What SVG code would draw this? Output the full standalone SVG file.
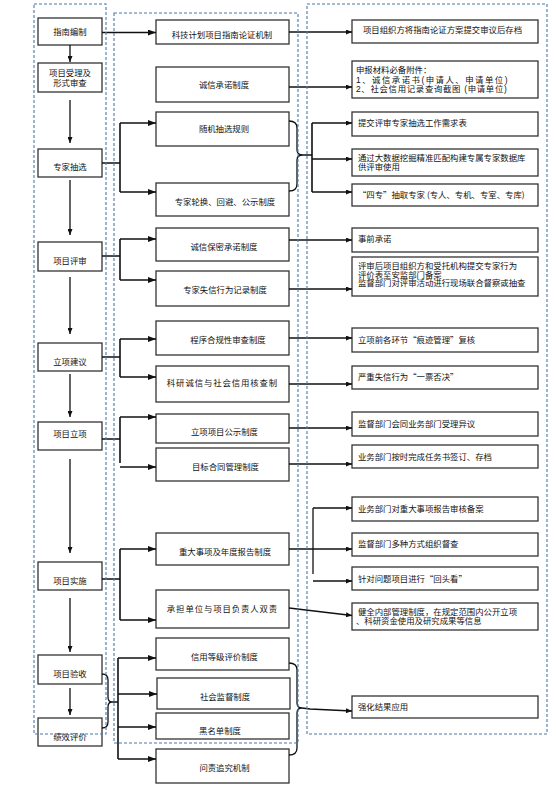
<svg xmlns="http://www.w3.org/2000/svg" width="556" height="786" viewBox="0 0 556 786">
<defs>
<style>
.box{fill:#fff;stroke:#333;stroke-width:1.3}
.t{font-family:"Liberation Sans","Noto Sans CJK SC",sans-serif;font-size:8.4px;fill:#111}
.q{font-family:"Noto Sans CJK SC",sans-serif}
.c{text-anchor:middle}
.ln{fill:none;stroke:#111;stroke-width:1.3}
.lk{fill:none;stroke:#111;stroke-width:1.6}
.dash{fill:none;stroke:#4a78ad;stroke-width:1.1;stroke-dasharray:3 2}
</style>
<marker id="ar" viewBox="0 0 8 6" refX="8" refY="3" markerWidth="8" markerHeight="6" orient="auto" markerUnits="userSpaceOnUse"><path d="M0,0 L8,3 L0,6 z" fill="#111"/></marker>
<marker id="as" viewBox="0 0 6 5" refX="6" refY="2.5" markerWidth="6" markerHeight="5" orient="auto" markerUnits="userSpaceOnUse"><path d="M0,0 L6,2.5 L0,5 z" fill="#111"/></marker>
</defs>
<rect width="556" height="786" fill="#fff"/>

<!-- left nodes -->
<g id="L1"><rect class="box" x="38" y="18" width="64" height="27"/><text class="t c" x="70" y="35">指南编制</text></g>
<g id="L2"><rect class="box" x="38" y="63" width="64" height="29"/><text class="t c" x="70" y="76">项目受理及</text><text class="t c" x="70" y="85.5">形式审查</text></g>
<g id="L3"><rect class="box" x="38" y="149" width="64" height="28"/><text class="t c" x="70" y="170">专家抽选</text></g>
<g id="L4"><rect class="box" x="38" y="242" width="64" height="29"/><text class="t c" x="70" y="264">项目评审</text></g>
<g id="L5"><rect class="box" x="38" y="343" width="64" height="28"/><text class="t c" x="70" y="365">立项建议</text></g>
<g id="L6"><rect class="box" x="38" y="422" width="64" height="28"/><text class="t c" x="70" y="437">项目立项</text></g>
<g id="L7"><rect class="box" x="38" y="562" width="64" height="28"/><text class="t c" x="70" y="584">项目实施</text></g>
<g id="L8"><rect class="box" x="38" y="655" width="64" height="29"/><text class="t c" x="70" y="677">项目验收</text></g>
<g id="L9"><rect class="box" x="38" y="718" width="64" height="28"/><text class="t c" x="70" y="740">绩效评价</text></g>

<!-- middle nodes -->
<g id="M1"><rect class="box" x="156" y="20" width="133" height="24"/><text class="t c" x="222" y="38">科技计划项目指南论证机制</text></g>
<g id="M2"><rect class="box" x="156" y="67" width="133" height="35"/><text class="t c" x="224" y="88">诚信承诺制度</text></g>
<g id="M3"><rect class="box" x="156" y="112" width="133" height="34"/><text class="t c" x="224" y="132">随机抽选规则</text></g>
<g id="M4"><rect class="box" x="156" y="183" width="133" height="33"/><text class="t c" x="225" y="205">专家轮换、回避、公示制度</text></g>
<g id="M5"><rect class="box" x="156" y="228" width="133" height="33"/><text class="t c" x="224" y="250">诚信保密承诺制度</text></g>
<g id="M6"><rect class="box" x="156" y="271" width="133" height="35"/><text class="t c" x="225" y="293">专家失信行为记录制度</text></g>
<g id="M7"><rect class="box" x="156" y="321" width="133" height="34"/><text class="t c" x="228" y="343">程序合规性审查制度</text></g>
<g id="M8"><rect class="box" x="156" y="366" width="133" height="36"/><text class="t c" x="222.5" y="386" letter-spacing="0.9">科研诚信与社会信用核查制</text></g>
<g id="M9"><rect class="box" x="156" y="414" width="133" height="29"/><text class="t c" x="224.5" y="435">立项项目公示制度</text></g>
<g id="M10"><rect class="box" x="156" y="448" width="133" height="33"/><text class="t c" x="225.5" y="470">目标合同管理制度</text></g>
<g id="M11"><rect class="box" x="156" y="533" width="133" height="32"/><text class="t c" x="225" y="555">重大事项及年度报告制度</text></g>
<g id="M12"><rect class="box" x="156" y="590" width="133" height="38"/><text class="t c" x="222.5" y="612" letter-spacing="0.9">承担单位与项目负责人双责</text></g>
<g id="M13"><rect class="box" x="156" y="638" width="133" height="32"/><text class="t c" x="224.5" y="660">信用等级评价制度</text></g>
<g id="M14"><rect class="box" x="157" y="678" width="133" height="31"/><text class="t c" x="225" y="700">社会监督制度</text></g>
<g id="M15"><rect class="box" x="156" y="713" width="133" height="26"/><text class="t c" x="220" y="734">黑名单制度</text></g>
<g id="M16"><rect class="box" x="156" y="749" width="133" height="34"/><text class="t c" x="224.5" y="771">问责追究机制</text></g>

<!-- right nodes -->
<g id="R1"><rect class="box" x="352" y="20" width="186" height="23"/><text class="t" x="363" y="33">项目组织方将指南论证方案提交审议后存档</text></g>
<g id="R2"><rect class="box" x="352" y="61" width="186" height="37"/><text class="t" x="356" y="73">申报材料必备附件：</text><text class="t" x="356" y="83" letter-spacing="1.5">1、诚信承诺书(申请人、申请单位)</text><text class="t" x="356" y="92" letter-spacing="0.7">2、社会信用记录查询截图 (申请单位)</text></g>
<g id="R3"><rect class="box" x="352" y="112" width="186" height="24"/><text class="t" x="358" y="126">提交评审专家抽选工作需求表</text></g>
<g id="R4"><rect class="box" x="352" y="149" width="186" height="27"/><text class="t" x="358" y="161">通过大数据挖掘精准匹配构建专属专家数据库</text><text class="t" x="358" y="170">供评审使用</text></g>
<g id="R5"><rect class="box" x="352" y="184" width="186" height="22"/><text class="t q" x="358" y="198">“四专”抽取专家 (专人、专机、专室、专库)</text></g>
<g id="R6"><rect class="box" x="352" y="228" width="186" height="24"/><text class="t" x="358" y="242">事前承诺</text></g>
<g id="R7"><rect class="box" x="352" y="257" width="186" height="39"/><text class="t" x="358" y="269">评审后项目组织方和受托机构提交专家行为</text><text class="t" x="358" y="277.5">评价表至安监部门备案</text><text class="t" x="358" y="286">监督部门对评审活动进行现场联合督察或抽查</text></g>
<g id="R8"><rect class="box" x="352" y="328" width="186" height="24"/><text class="t q" x="358" y="343">立项前各环节“痕迹管理”复核</text></g>
<g id="R9"><rect class="box" x="352" y="366" width="186" height="23"/><text class="t q" x="358" y="380">严重失信行为“一票否决”</text></g>
<g id="R10"><rect class="box" x="352" y="412" width="186" height="24"/><text class="t" x="358" y="427">监督部门会同业务部门受理异议</text></g>
<g id="R11"><rect class="box" x="352" y="445" width="186" height="23"/><text class="t" x="358" y="460">业务部门按时完成任务书签订、存档</text></g>
<g id="R12"><rect class="box" x="352" y="497" width="186" height="24"/><text class="t" x="358" y="512">业务部门对重大事项报告审核备案</text></g>
<g id="R13"><rect class="box" x="352" y="533" width="186" height="23"/><text class="t" x="358" y="547">监督部门多种方式组织督查</text></g>
<g id="R14"><rect class="box" x="352" y="567" width="186" height="23"/><text class="t q" x="358" y="582">针对问题项目进行“回头看”</text></g>
<g id="R15"><rect class="box" x="352" y="603" width="186" height="27"/><text class="t" x="358" y="615">健全内部管理制度，在规定范围内公开立项</text><text class="t" x="356" y="624">、科研资金使用及研究成果等信息</text></g>
<g id="R16"><rect class="box" x="352" y="696" width="186" height="22"/><text class="t" x="358" y="710">强化结果应用</text></g>

<!-- connectors -->
<g id="connectors">
<path class="ln" d="M70,45 V62" marker-end="url(#as)"/>
<path class="ln" d="M70,100 V143" marker-end="url(#as)"/>
<path class="ln" d="M70,180 V235" marker-end="url(#as)"/>
<path class="ln" d="M70,277 V334" marker-end="url(#as)"/>
<path class="ln" d="M70,374 V417" marker-end="url(#as)"/>
<path class="ln" d="M70,459 V553" marker-end="url(#as)"/>
<path class="ln" d="M70,598 V652" marker-end="url(#as)"/>
<path class="ln" d="M70,688 V715" marker-end="url(#as)"/>

<path class="ln" d="M102,32.5 H156" marker-end="url(#ar)"/>
<path class="lk" d="M102,163 H120 M120,123 V192"/>
<path class="ln" d="M120,123 H156" marker-end="url(#ar)"/>
<path class="ln" d="M120,192 H156" marker-end="url(#ar)"/>
<path class="lk" d="M102,256 H120 M120,239 V280"/>
<path class="ln" d="M120,239 H156" marker-end="url(#ar)"/>
<path class="ln" d="M120,280 H156" marker-end="url(#ar)"/>
<path class="lk" d="M102,357 H120 M120,339 V377"/>
<path class="ln" d="M120,339 H156" marker-end="url(#ar)"/>
<path class="ln" d="M120,377 H156" marker-end="url(#ar)"/>
<path class="lk" d="M102,439 H120 M120,417 V463"/>
<path class="ln" d="M120,417 H156" marker-end="url(#ar)"/>
<path class="ln" d="M120,467 H156" marker-end="url(#ar)"/>
<path class="lk" d="M102,579 H120 M120,549 V620"/>
<path class="ln" d="M120,549 H156" marker-end="url(#ar)"/>
<path class="ln" d="M120,620 H156" marker-end="url(#ar)"/>
<path class="ln" d="M102,674 Q108,674 108,680 V697 Q108,702 112,702 Q108,702 108,707 V722 Q108,728 102,728"/>
<path class="lk" d="M112,702 H118 M118,658 V759"/>
<path class="ln" d="M118,658 H156" marker-end="url(#ar)"/>
<path class="ln" d="M118,694 H157" marker-end="url(#ar)"/>
<path class="ln" d="M118,727 H156" marker-end="url(#ar)"/>
<path class="ln" d="M118,759 H156" marker-end="url(#ar)"/>

<path class="ln" d="M289,32 H352" marker-end="url(#as)"/>
<path class="ln" d="M289,87 H352" marker-end="url(#as)"/>
<path class="ln" d="M289,121 Q297,121 297,128 V150 Q297,155 303,155 Q297,155 297,160 V184 Q297,191 289,191"/>
<path class="lk" d="M303,155 H312 M312,123 V192"/>
<path class="ln" d="M312,123 H352" marker-end="url(#as)"/>
<path class="ln" d="M312,159 H352" marker-end="url(#as)"/>
<path class="ln" d="M312,192 H352" marker-end="url(#as)"/>
<path class="ln" d="M289,240 H352" marker-end="url(#as)"/>
<path class="ln" d="M289,289 H352" marker-end="url(#as)"/>
<path class="ln" d="M289,338 H352" marker-end="url(#as)"/>
<path class="ln" d="M289,384 H352" marker-end="url(#as)"/>
<path class="ln" d="M289,428 H352" marker-end="url(#as)"/>
<path class="ln" d="M289,464 H352" marker-end="url(#as)"/>
<path class="ln" d="M289,549 H352" marker-end="url(#as)"/>
<path class="ln" d="M313,508 V574"/>
<path class="ln" d="M313,508 H352" marker-end="url(#as)"/>
<path class="ln" d="M313,581 H352" marker-end="url(#as)"/>
<path class="ln" d="M289,608 L352,615.5" marker-end="url(#as)"/>
<path class="ln" d="M289,663 Q297,663 297,670 V703 Q297,708 302,708 Q297,708 297,713 V748 Q297,755 289,755"/>
<path class="ln" d="M302,708 L310,709 L352,711" marker-end="url(#as)"/>
</g>

<g id="containers">
<rect class="dash" x="34" y="4" width="72" height="730"/>
<rect class="dash" x="114" y="13" width="184" height="730"/>
<rect class="dash" x="307" y="4" width="240" height="730"/>
</g>
</svg>
